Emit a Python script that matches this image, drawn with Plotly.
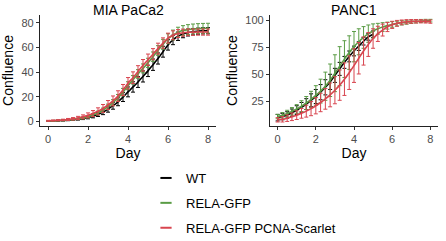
import plotly.graph_objects as go

W, H = 446, 241

day = [0, 0.25, 0.5, 0.75, 1, 1.25, 1.5, 1.75, 2, 2.25, 2.5, 2.75, 3, 3.25, 3.5, 3.75,
       4, 4.25, 4.5, 4.75, 5, 5.25, 5.5, 5.75, 6, 6.25, 6.5, 6.75, 7, 7.25, 7.5, 7.75, 8]

# MIA PaCa2
mia_wt = [0.5, 0.6, 0.7, 0.9, 1.1, 1.4, 1.8, 2.4, 3.2, 4.3, 5.7, 7.6, 10, 12.8, 16, 19.8,
          24, 28, 32, 36.5, 41, 46, 51, 56.5, 62, 66, 69, 70.8, 72, 72.7, 73.1, 73.4, 73.5]
mia_wt_sd = [0.3, 0.3, 0.3, 0.4, 0.4, 0.5, 0.6, 0.8, 1, 1.3, 1.6, 2, 2.4, 2.8, 3.2, 3.6,
             4, 4.2, 4.4, 4.5, 4.6, 4.6, 4.5, 4.4, 4.2, 3.8, 3.4, 3, 2.8, 2.6, 2.5, 2.5, 2.5]
mia_gfp = [0.5, 0.6, 0.8, 1, 1.3, 1.7, 2.2, 2.9, 3.9, 5.2, 6.9, 9.1, 12, 15.3, 19.2, 23.8,
           29, 33.8, 38.5, 43, 47.5, 52.5, 57.5, 62.5, 67, 70, 72.3, 73.6, 74.4, 74.9, 75.2, 75.4, 75.5]
mia_gfp_sd = [0.3, 0.3, 0.3, 0.4, 0.4, 0.5, 0.6, 0.8, 1, 1.2, 1.5, 1.8, 2.1, 2.4, 2.7, 3,
              3.2, 3.4, 3.5, 3.6, 3.7, 3.8, 3.9, 4, 4, 4, 4, 4, 4, 4, 4, 4, 4]
mia_rfp = [0.6, 0.8, 1, 1.3, 1.7, 2.2, 2.9, 3.8, 5, 6.5, 8.3, 10.6, 13.4, 16.7, 20.6, 25.5,
           31, 35.5, 40.5, 45.5, 50, 54.5, 59, 63.5, 67.5, 69.8, 71.2, 71.9, 72.2, 72.3, 72.4, 72.4, 72.4]
mia_rfp_sd = [0.4, 0.4, 0.5, 0.6, 0.8, 1, 1.3, 1.6, 2, 2.4, 2.8, 3.2, 3.6, 4, 4.3, 4.5,
              4.6, 4.7, 4.7, 4.7, 4.6, 4.5, 4.4, 4.2, 4, 3.6, 3.2, 2.9, 2.7, 2.6, 2.5, 2.5, 2.5]

# PANC1
panc_day_wt = [0, 0.25, 0.5, 0.75, 1, 1.25, 1.5, 1.75, 2, 2.25, 2.5, 2.75, 3, 3.25, 3.5,
               3.75, 4, 4.25, 4.5, 4.75, 5]
panc_wt = [10, 11, 12.5, 14.5, 17, 19.5, 22.5, 26, 29.5, 33.5, 38, 43, 49, 55, 61,
           66.5, 71.5, 76, 80.5, 84.5, 87]
panc_wt_sd = [3, 3, 3, 3.5, 4, 4.5, 5, 6, 6.5, 7, 7, 7, 6.5, 6, 5.5, 5, 4.5, 4, 3.5, 3, 3]
panc_gfp = [11, 12.2, 13.8, 15.8, 18, 20.6, 23.5, 26.8, 30.5, 34.5, 39, 44.5, 51, 57.5, 64,
            70, 75.5, 80, 84, 87.5, 90, 92, 93.6, 94.9, 96, 96.8, 97.5, 98, 98.5, 98.9, 99.2, 99.4, 99.5]
panc_gfp_sd = [2, 2.5, 3, 3.5, 4, 5, 6, 7.5, 9, 11, 13, 15, 17, 18, 17, 15.5,
               14, 12, 10, 8, 6.5, 5, 4, 3.2, 2.6, 2.2, 2, 1.8, 1.6, 1.5, 1.4, 1.3, 1.2]
panc_rfp = [8, 8.5, 9.5, 10.8, 12.3, 14, 16, 18.3, 21, 24, 27.3, 31, 35.3, 40, 45.5,
            51.5, 58, 64.8, 71.5, 77.5, 83, 87.3, 90.8, 93.6, 95.6, 97, 97.9, 98.5, 98.8, 98.9, 98.9, 98.8, 98.6]
panc_rfp_sd = [2, 2.5, 3, 3.5, 4, 4.5, 5.5, 6.5, 7.5, 8.5, 9.5, 11, 12.5, 14, 15, 15.5,
               15.5, 14.5, 13, 11, 9, 7, 5.5, 4.2, 3.3, 2.7, 2.2, 1.9, 1.7, 1.6, 1.5, 1.5, 1.5]

x_ticks = [0, 2, 4, 6, 8]
mia_y_ticks = [0, 20, 40, 60, 80]
panc_y_ticks = [25, 50, 75, 100]

series_names = ["WT", "RELA-GFP", "RELA-GFP PCNA-Scarlet"]
colors = ["#000000", "#5a9c45", "#d8454f"]
panel_titles = ["MIA PaCa2", "PANC1"]

fig = go.Figure()


def add_series(x, y, sd, color, xa, ya):
    fig.add_trace(go.Scatter(
        x=x, y=y, mode="lines", line=dict(color=color, width=1.6, shape="spline"),
        error_y=dict(type="data", array=sd, visible=True, color=color, thickness=1, width=2),
        xaxis=xa, yaxis=ya, showlegend=False, hoverinfo="skip"))


add_series(day, mia_wt, mia_wt_sd, colors[0], "x", "y")
add_series(day, mia_gfp, mia_gfp_sd, colors[1], "x", "y")
add_series(day, mia_rfp, mia_rfp_sd, colors[2], "x", "y")
add_series(panc_day_wt, panc_wt, panc_wt_sd, colors[0], "x2", "y2")
add_series(day, panc_gfp, panc_gfp_sd, colors[1], "x2", "y2")
add_series(day, panc_rfp, panc_rfp_sd, colors[2], "x2", "y2")

for name, c in zip(series_names, colors):
    fig.add_trace(go.Scatter(
        x=[None], y=[None], mode="markers", name=name, legendgroup=name,
        marker=dict(symbol="line-ew", size=8, color=c, line=dict(color=c, width=2)),
        xaxis="x", yaxis="y"))

tickfont = dict(family="Liberation Sans, Arial, sans-serif", size=11, color="#4d4d4d")
titlefont = dict(family="Liberation Sans, Arial, sans-serif", size=14, color="#000000")

ydom = [1 - 126 / H, 1 - 15 / H]
x1dom = [40 / W, 216 / W]
x2dom = [270 / W, 438 / W]

common_ax = dict(showgrid=False, zeroline=False, showline=True, linecolor="#222222", linewidth=1.2,
                 ticks="outside", ticklen=3, tickcolor="#333333", tickwidth=1,
                 tickfont=tickfont, mirror=False, automargin=False)

fig.update_layout(
    width=W, height=H, margin=dict(l=0, r=0, t=0, b=0, autoexpand=False),
    paper_bgcolor="white", plot_bgcolor="white",
    font=dict(family="Liberation Sans, Arial, sans-serif"),
    xaxis=dict(domain=x1dom, range=[-0.4, 8.4], tickvals=x_ticks, anchor="y",
               title=dict(text="Day", font=titlefont, standoff=2), **common_ax),
    yaxis=dict(domain=ydom, range=[-3.6, 86.2], tickvals=mia_y_ticks, anchor="x",
               title=dict(text="Confluence", font=titlefont, standoff=4), **common_ax),
    xaxis2=dict(domain=x2dom, range=[-0.4, 8.4], tickvals=x_ticks, anchor="y2",
                title=dict(text="Day", font=titlefont, standoff=2), **common_ax),
    yaxis2=dict(domain=ydom, range=[2.3, 104.7], tickvals=panc_y_ticks, anchor="x2",
                title=dict(text="Confluence", font=titlefont, standoff=4), **common_ax),
    legend=dict(x=146 / W, y=1 - 163 / H, xanchor="left", yanchor="top",
                font=dict(family="Liberation Sans, Arial, sans-serif", size=13, color="#000000"),
                bgcolor="rgba(0,0,0,0)", tracegroupgap=5, itemwidth=30),
    annotations=[
        dict(text=panel_titles[0], x=(x1dom[0] + x1dom[1]) / 2, y=1, xref="paper", yref="paper",
             xanchor="center", yanchor="top", showarrow=False, font=titlefont),
        dict(text=panel_titles[1], x=(x2dom[0] + x2dom[1]) / 2, y=1, xref="paper", yref="paper",
             xanchor="center", yanchor="top", showarrow=False, font=titlefont),
    ],
)

fig.write_html("out.html", config={"displayModeBar": False},
               post_script="document.body.style.margin='0';document.body.style.padding='0';")
